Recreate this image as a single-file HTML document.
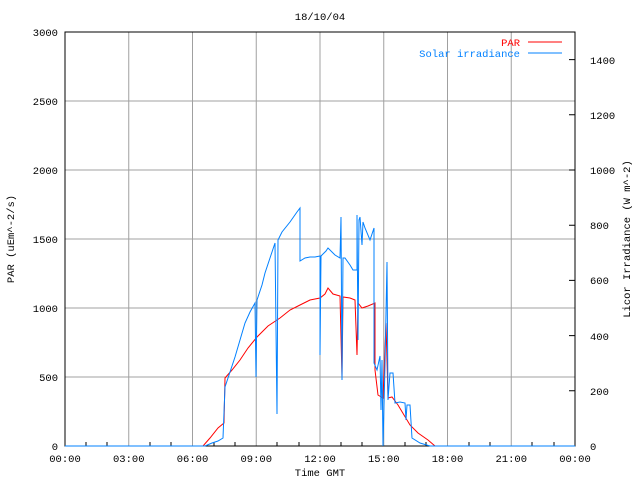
<!DOCTYPE html>
<html><head><meta charset="utf-8"><style>
body{margin:0;background:#fff}
svg text{font-family:"Liberation Mono",monospace;font-size:10.5px}
</style></head><body>
<svg width="640" height="480" viewBox="0 0 640 480" xmlns="http://www.w3.org/2000/svg">
<rect width="640" height="480" fill="#fff"/>
<g stroke="#a0a0a0" stroke-width="1">
<line x1="128.75" y1="32" x2="128.75" y2="446"/><line x1="192.5" y1="32" x2="192.5" y2="446"/>
<line x1="256.25" y1="32" x2="256.25" y2="446"/><line x1="320" y1="32" x2="320" y2="446"/>
<line x1="383.75" y1="32" x2="383.75" y2="446"/><line x1="447.5" y1="32" x2="447.5" y2="446"/>
<line x1="511.25" y1="32" x2="511.25" y2="446"/>
<line x1="65" y1="377" x2="575" y2="377"/><line x1="65" y1="308" x2="575" y2="308"/>
<line x1="65" y1="239" x2="575" y2="239"/><line x1="65" y1="170" x2="575" y2="170"/>
<line x1="65" y1="101" x2="575" y2="101"/>
</g>
<g stroke="#000" stroke-width="1">
<rect x="65" y="32" width="510" height="414" fill="none"/>
<path d="M575 390.8h-6M575 335.6h-6M575 280.4h-6M575 225.2h-6M575 170h-6M575 114.8h-6M575 59.6h-6"/>
<path d="M86 446v-4M107 446v-4M150 446v-4M171 446v-4M214 446v-4M235 446v-4M277 446v-4M299 446v-4M341 446v-4M362 446v-4M405 446v-4M426 446v-4M469 446v-4M490 446v-4M532 446v-4M554 446v-4"/>
</g>
<g text-anchor="end">
<text x="58" y="450">0</text><text x="58" y="381">500</text><text x="58" y="312">1000</text>
<text x="58" y="243">1500</text><text x="58" y="174">2000</text><text x="58" y="105">2500</text><text x="58" y="36">3000</text>
</g>
<g>
<text x="590" y="450">0</text><text x="590" y="395">200</text><text x="590" y="340">400</text>
<text x="590" y="284">600</text><text x="590" y="229">800</text><text x="590" y="174">1000</text>
<text x="590" y="119">1200</text><text x="590" y="64">1400</text>
</g>
<g text-anchor="middle">
<text x="65" y="462">00:00</text><text x="128.75" y="462">03:00</text><text x="192.5" y="462">06:00</text>
<text x="256.25" y="462">09:00</text><text x="320" y="462">12:00</text><text x="383.75" y="462">15:00</text>
<text x="447.5" y="462">18:00</text><text x="511.25" y="462">21:00</text><text x="575" y="462">00:00</text>
<text x="320" y="476">Time GMT</text>
<text x="320" y="20">18/10/04</text>
<text transform="translate(14,239) rotate(-90)">PAR (uEm^-2/s)</text>
<text transform="translate(630,239) rotate(-90)">Licor Irradiance (W m^-2)</text>
</g>
<text x="520" y="46" text-anchor="end" fill="#ff0000">PAR</text>
<line x1="528" y1="42" x2="562" y2="42" stroke="#ff0000"/>
<text x="520" y="57" text-anchor="end" fill="#0080ff">Solar irradiance</text>
<line x1="528" y1="53" x2="562" y2="53" stroke="#0080ff"/>
<polyline fill="none" stroke="#ff0000" stroke-width="1" points="65,446 203,446 210,438 218,428 224,423 225,378 232,370 240,360 248,348 257,337 268,326 280,318 290,310 300,305 310,300 320,298 325,294 328,288 333,294 340,296 342,378 343,297 350,298 355,300 357,355 358,303 362,308 368,306 375,303 375,370 378,395 383,398 386,323 388,398 392,397 398,405 404,415 410,425 418,433 428,440 435,446 575,446"/>
<polyline fill="none" stroke="#0080ff" stroke-width="1" points="65,446 205,446 212,443 218,441 223,438 225,387 230,372 235,357 240,340 245,323 250,312 255,303 256,377 257,300 262,285 265,273 270,258 275,243 277,414 278,240 282,232 290,222 297,212 300,208 300,261 305,258 310,257 315,257 320,256 320,355 321,256 326,251 328,248 335,255 340,258 341,217 342,380 343,258 345,258 350,265 353,270 357,270 357,215 358,340 359,220 360,217 362,245 363,222 365,228 370,240 374,228 374,363 377,370 380,356 381,410 382,360 383,446 385,365 387,262 388,400 390,373 393,373 395,403 400,402 405,403 406,420 407,405 410,405 412,438 420,443 430,446 575,446"/>
</svg>
</body></html>
